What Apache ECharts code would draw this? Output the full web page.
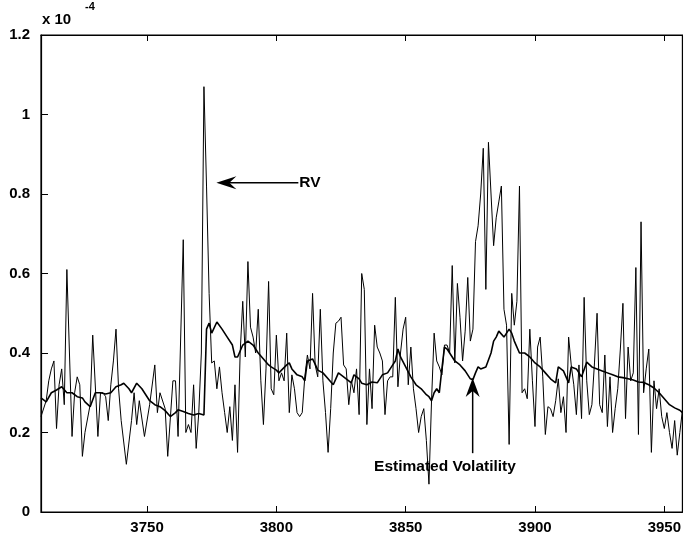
<!DOCTYPE html>
<html>
<head>
<meta charset="utf-8">
<script src="https://cdn.jsdelivr.net/npm/echarts@6/dist/echarts.min.js"></script>
<style>
html,body{margin:0;padding:0;background:#fff;}
#c{width:684px;height:543px;}
</style>
</head>
<body>
<div id="c"></div>
<script>
// ---- data (values in units of 1e-4) ----
const rvDay = [3709,3711,3712,3713,3714,3715,3716,3717,3718,3719,3721,3722,3723,3724,3725,3726,3728,3729,3731,3732,3733,3734,3735,3736,3737,3738,3739,3740,3742,3744,3745,3746,3747,3749,3751,3753,3754,3755,3757,3758,3760,3761,3762,3764,3765,3766,3767,3768,3769,3770,3771,3772,3773,3774,3775,3776,3777,3778,3779,3780,3781,3782,3783,3784,3785,3786,3787,3788,3789,3790,3791,3792,3793,3794,3795,3796,3797,3798,3799,3800,3801,3802,3803,3804,3805,3806,3807,3808,3809,3810,3811,3812,3813,3814,3815,3816,3817,3818,3819,3820,3821,3822,3823,3824,3825,3826,3827,3828,3829,3830,3831,3832,3833,3834,3835,3836,3837,3838,3839,3840,3841,3842,3843,3844,3845,3846,3847,3848,3849,3850,3851,3852,3853,3854,3855,3856,3857,3858,3859,3860,3861,3862,3863,3864,3865,3866,3867,3868,3869,3870,3871,3872,3873,3874,3875,3876,3877,3878,3879,3880,3881,3882,3883,3884,3885,3886,3887,3888,3889,3890,3891,3892,3893,3894,3895,3896,3897,3898,3899,3900,3901,3902,3903,3904,3905,3906,3907,3908,3909,3910,3911,3912,3913,3914,3915,3916,3917,3918,3919,3920,3921,3922,3923,3924,3925,3926,3927,3928,3929,3930,3931,3932,3933,3934,3935,3936,3937,3938,3939,3940,3941,3942,3943,3944,3945,3946,3947,3948,3949,3950,3951,3952,3953,3954,3955,3956,3957];
const rvValue = [0.24,0.28,0.33,0.36,0.38,0.21,0.32,0.36,0.27,0.61,0.19,0.30,0.34,0.32,0.14,0.20,0.27,0.445,0.19,0.30,0.30,0.29,0.23,0.32,0.38,0.46,0.31,0.23,0.12,0.23,0.30,0.22,0.28,0.19,0.27,0.37,0.25,0.30,0.26,0.14,0.33,0.33,0.19,0.685,0.20,0.22,0.20,0.32,0.16,0.25,0.40,1.07,0.82,0.55,0.375,0.38,0.31,0.365,0.30,0.25,0.20,0.265,0.18,0.32,0.15,0.40,0.53,0.39,0.63,0.465,0.44,0.40,0.51,0.33,0.22,0.36,0.58,0.31,0.295,0.445,0.33,0.35,0.33,0.45,0.25,0.345,0.31,0.25,0.24,0.25,0.34,0.395,0.36,0.55,0.37,0.34,0.51,0.33,0.25,0.15,0.26,0.40,0.475,0.48,0.49,0.37,0.36,0.27,0.33,0.30,0.36,0.245,0.60,0.56,0.22,0.36,0.26,0.47,0.415,0.40,0.38,0.245,0.33,0.34,0.34,0.54,0.315,0.40,0.46,0.49,0.32,0.415,0.31,0.26,0.20,0.24,0.26,0.18,0.07,0.28,0.45,0.38,0.365,0.345,0.42,0.42,0.40,0.62,0.375,0.575,0.49,0.38,0.455,0.59,0.43,0.46,0.68,0.72,0.80,0.915,0.56,0.93,0.80,0.67,0.74,0.78,0.82,0.51,0.47,0.17,0.55,0.47,0.53,0.82,0.30,0.31,0.285,0.46,0.33,0.215,0.415,0.44,0.34,0.195,0.265,0.26,0.24,0.28,0.335,0.25,0.29,0.20,0.44,0.37,0.32,0.245,0.37,0.235,0.54,0.33,0.245,0.27,0.375,0.50,0.27,0.25,0.395,0.215,0.34,0.20,0.26,0.31,0.41,0.525,0.235,0.415,0.33,0.35,0.615,0.195,0.73,0.30,0.36,0.41,0.15,0.33,0.26,0.31,0.24,0.21,0.25,0.20,0.16,0.23,0.143,0.20,0.256];

const evDay = [3709,3711,3713,3715,3717,3719,3721,3723,3725,3726,3728,3730,3732,3734,3736,3738,3740,3741,3743,3744,3746,3748,3750,3751,3753,3755,3757,3759,3761,3762,3764,3766,3768,3770,3772,3773,3774,3775,3777,3779,3781,3783,3784,3785,3787,3789,3791,3792,3793,3795,3797,3798,3800,3801,3802,3804,3805,3806,3808,3810,3811,3812,3814,3815,3816,3818,3820,3822,3823,3824,3826,3828,3829,3830,3832,3833,3835,3837,3839,3841,3843,3845,3846,3847,3848,3850,3852,3854,3856,3858,3859,3860,3861,3862,3863,3864,3865,3866,3867,3869,3871,3873,3875,3876,3877,3878,3879,3881,3883,3884,3885,3886,3888,3890,3891,3892,3894,3896,3898,3900,3902,3904,3906,3908,3909,3911,3913,3914,3916,3918,3920,3922,3924,3926,3928,3930,3932,3934,3936,3938,3940,3942,3944,3946,3948,3950,3952,3954,3956,3957];
const evValue = [0.287,0.277,0.30,0.307,0.315,0.30,0.30,0.29,0.287,0.277,0.265,0.30,0.30,0.297,0.30,0.315,0.32,0.324,0.31,0.30,0.324,0.31,0.29,0.28,0.27,0.265,0.255,0.24,0.25,0.257,0.253,0.248,0.244,0.248,0.244,0.46,0.475,0.45,0.478,0.46,0.44,0.42,0.39,0.39,0.42,0.43,0.42,0.41,0.40,0.385,0.37,0.365,0.357,0.35,0.357,0.37,0.375,0.36,0.345,0.34,0.33,0.38,0.385,0.372,0.357,0.35,0.335,0.32,0.335,0.35,0.34,0.33,0.325,0.345,0.335,0.324,0.32,0.327,0.325,0.345,0.35,0.37,0.38,0.41,0.39,0.365,0.34,0.32,0.31,0.295,0.29,0.28,0.30,0.31,0.30,0.36,0.415,0.41,0.40,0.38,0.37,0.355,0.335,0.333,0.35,0.365,0.36,0.365,0.40,0.43,0.44,0.455,0.44,0.46,0.45,0.43,0.40,0.40,0.39,0.375,0.365,0.35,0.335,0.325,0.365,0.355,0.325,0.365,0.36,0.34,0.377,0.365,0.36,0.355,0.35,0.345,0.34,0.338,0.335,0.332,0.327,0.326,0.32,0.312,0.30,0.285,0.27,0.262,0.256,0.25];

const xTicks = [3750, 3800, 3850, 3900, 3950];
const yTicks = [0, 0.2, 0.4, 0.6, 0.8, 1, 1.2];
const xRange = [3709, 3957];
const yRange = [0, 1.2];

const rvPairs = rvDay.map((d, i) => [d, rvValue[i]]);
const evPairs = evDay.map((d, i) => [d, evValue[i]]);

const FONT = 'Liberation Sans, Arial, Helvetica, sans-serif';
const chart = echarts.init(document.getElementById('c'), null, {renderer: 'canvas'});

chart.setOption({
  animation: false,
  backgroundColor: '#fff',
  grid: {left: 41, top: 35, width: 644, height: 477, containLabel: false,
         show: true, borderColor: '#000', borderWidth: 1.2, backgroundColor: 'transparent'},
  xAxis: [
    {
      type: 'value', gridIndex: 0, position: 'bottom',
      min: xRange[0], max: xRange[1],
      splitLine: {show: false},
      axisLine: {show: true, onZero: false, lineStyle: {color: '#000', width: 1.2}},
      axisTick: {show: true, inside: true, length: 6, lineStyle: {color: '#000', width: 1}, customValues: xTicks},
      axisLabel: {show: true, customValues: xTicks, color: '#000', fontFamily: FONT, fontWeight: 'bold', fontSize: 15, margin: 8,
        formatter: v => String(v)}
    },
    {
      type: 'value', gridIndex: 0, position: 'top',
      min: xRange[0], max: xRange[1],
      splitLine: {show: false},
      axisLine: {show: true, onZero: false, lineStyle: {color: '#000', width: 1.2}},
      axisTick: {show: true, inside: true, length: 6, lineStyle: {color: '#000', width: 1}, customValues: xTicks},
      axisLabel: {show: false}
    }
  ],
  yAxis: [{
    type: 'value', min: yRange[0], max: yRange[1],
    splitLine: {show: false},
    axisLine: {show: true, onZero: false, lineStyle: {color: '#000', width: 1.2}},
    axisTick: {show: true, inside: true, length: 7, lineStyle: {color: '#000', width: 1}, customValues: yTicks},
    axisLabel: {show: true, customValues: yTicks, color: '#000', fontFamily: FONT, fontWeight: 'bold', fontSize: 15, margin: 11,
      formatter: v => String(Math.round(v * 10) / 10)}
  }],
  series: [
    {type: 'line', name: 'RV', data: rvPairs, showSymbol: false, symbol: 'none', xAxisIndex: 0,
     lineStyle: {color: '#000', width: 1}, z: 2},
    {type: 'line', name: 'Estimated Volatility', data: evPairs, showSymbol: false, symbol: 'none', xAxisIndex: 1,
     lineStyle: {color: '#000', width: 1.6}, z: 3}
  ]
});

// annotations placed via data coordinates
const P = (x, y) => chart.convertToPixel({xAxisIndex: 0, yAxisIndex: 0}, [x, y]);
const rvTip = P(3776.8, 0.828);
const rvEnd = P(3808.5, 0.828);
const evTip = P(3875.9, 0.337);
const evEnd = P(3875.9, 0.148);
const evText = P(3865.2, 0.113);

chart.setOption({
  graphic: [
    {type: 'text', left: 42, top: 12, style: {text: 'x 10', fill: '#000', font: 'bold 15px ' + FONT}},
    {type: 'text', left: 85, top: 1, style: {text: '-4', fill: '#000', font: 'bold 11px ' + FONT}},
    // RV arrow
    {type: 'line', shape: {x1: rvTip[0] + 12, y1: rvTip[1], x2: rvEnd[0], y2: rvEnd[1]}, style: {stroke: '#000', lineWidth: 1.5}},
    {type: 'polygon', shape: {points: [[rvTip[0], rvTip[1]], [rvTip[0] + 20, rvTip[1] - 6.5], [rvTip[0] + 13, rvTip[1]], [rvTip[0] + 20, rvTip[1] + 6.5]]}, style: {fill: '#000'}},
    {type: 'text', x: rvEnd[0] + 1, y: rvEnd[1], style: {text: 'RV', fill: '#000', font: 'bold 15.5px ' + FONT, textVerticalAlign: 'middle', textAlign: 'left'}},
    // Estimated volatility arrow
    {type: 'line', shape: {x1: evTip[0], y1: evTip[1] + 12, x2: evEnd[0], y2: evEnd[1]}, style: {stroke: '#000', lineWidth: 1.5}},
    {type: 'polygon', shape: {points: [[evTip[0], evTip[1]], [evTip[0] + 7, evTip[1] + 19], [evTip[0], evTip[1] + 13], [evTip[0] - 7, evTip[1] + 19]]}, style: {fill: '#000'}},
    {type: 'text', x: evText[0], y: evText[1], style: {text: 'Estimated Volatility', fill: '#000', font: 'bold 15.5px ' + FONT, textVerticalAlign: 'middle', textAlign: 'center'}}
  ]
});
</script>
</body>
</html>
